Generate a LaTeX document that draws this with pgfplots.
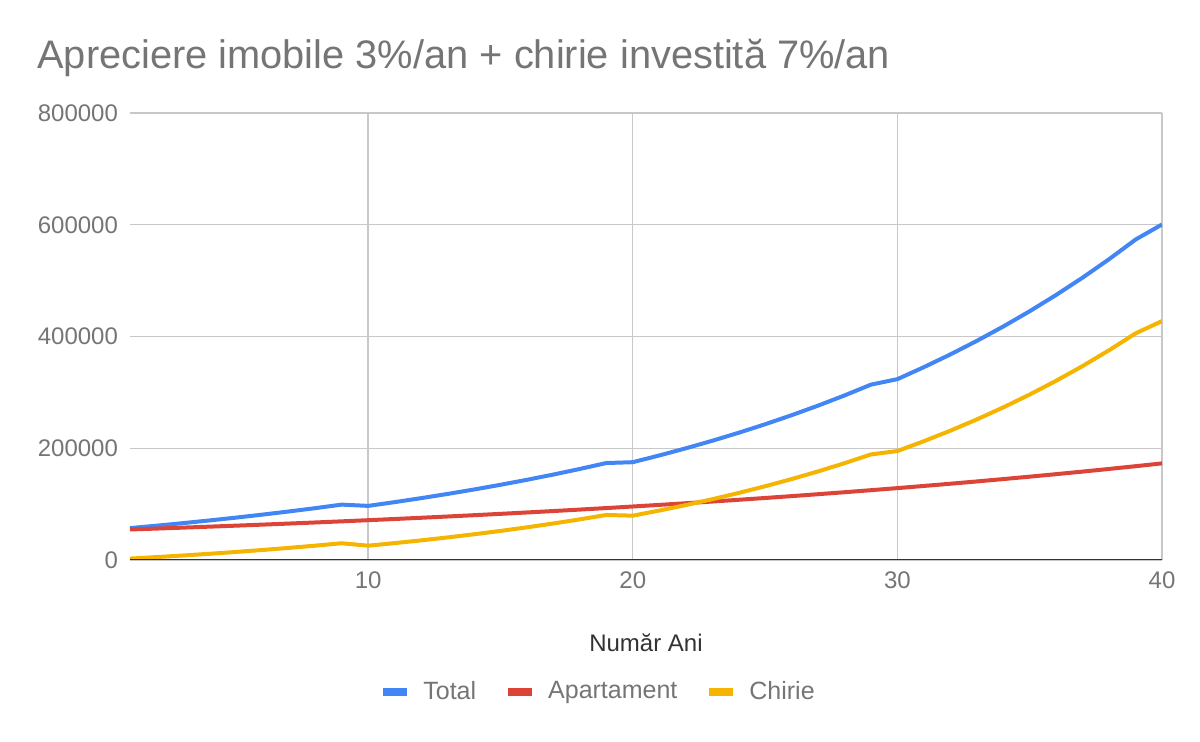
\documentclass[border=0pt]{standalone}
\usepackage{pgfplots}
\usepackage{pgfplotstable}
\pgfplotsset{compat=1.18}
\usepackage{fontspec}
\setmainfont{Liberation Sans}
\definecolor{gblue}{HTML}{4285F4}
\definecolor{gred}{HTML}{DB4437}
\definecolor{gyellow}{HTML}{F4B400}
\definecolor{ggray}{HTML}{757575}
\definecolor{ggrid}{HTML}{C8C8C8}
\definecolor{gdark}{HTML}{333333}

\pgfplotstableread{
n total apart chirie
1 57090 54590 2500
2 61403 56228 5175
3 65952 57915 8037
4 70752 59652 11100
5 75819 61442 14377
6 81168 63285 17883
7 86818 65183 21635
8 92788 67139 25649
9 99098 69153 29945
10 96828 71228 25600
11 103556 73364 30192
12 110670 75565 35105
13 118194 77832 40362
14 126154 80167 45987
15 134578 82572 52006
16 143495 85049 58446
17 152938 87601 65337
18 162940 90229 72711
19 173537 92936 80601
20 175024 95724 79300
21 187047 98596 88451
22 199796 101553 98243
23 213320 104600 108720
24 227668 107738 119930
25 242895 110970 131925
26 259059 114299 144760
27 276221 117728 158493
28 294448 121260 173188
29 313809 124898 188911
30 323645 128645 195000
31 345084 132504 212580
32 367870 136479 231391
33 392092 140574 251518
34 417845 144791 273054
35 445233 149135 296098
36 474364 153609 320755
37 505355 158217 347138
38 538331 162963 375368
39 573426 167852 405574
40 600488 172888 427600
}\datatable

\begin{document}
\begin{tikzpicture}
\path[use as bounding box] (-65pt,-91pt) rectangle (535pt,280pt);
\begin{axis}[
  at={(0pt,0pt)}, anchor=south west,
  scale only axis, width=516pt, height=223.5pt,
  xmin=1, xmax=40, ymin=0, ymax=800000,
  xtick={10,20,30,40},
  xticklabels={10,20,30,40},
  ytick={0,200000,400000,600000,800000},
  yticklabels={0,200000,400000,600000,800000},
  scaled y ticks=false,
  ticklabel style={font=\fontsize{12}{14}\selectfont, text=ggray},
  yticklabel style={xshift=-2.5pt},
  xticklabel style={yshift=-2.5pt},
  major tick length=0pt,
  grid=major,
  grid style={ggrid, line width=0.7pt},
  axis line style={draw=none},
  legend columns=3,
  legend style={draw=none, fill=none, at={(0.4545,-0.295)}, anchor=center,
    font=\fontsize{12.5}{15}\selectfont, text=ggray,
    /tikz/every odd column/.append style={column sep=4pt},
    /tikz/every even column/.append style={column sep=12pt}},
  legend image code/.code={\draw[#1, line width=4pt] (0pt,0pt) -- (12pt,0pt);},
  every axis plot/.append style={line width=2pt, line join=round, no markers},
]
\addplot[gblue] table[x=n, y=total] {\datatable};
\addlegendentry{Total}
\addplot[gred] table[x=n, y=apart] {\datatable};
\addlegendentry{Apartament}
\addplot[gyellow] table[x=n, y=chirie] {\datatable};
\addlegendentry{Chirie}
\draw[gdark, line width=1.25pt] (axis cs:1,0) -- (axis cs:40,0);
\end{axis}
\node[anchor=base west, font=\fontsize{19.9}{23}\selectfont, text=ggray, inner sep=0pt]
  at (-46.5pt,245.5pt) {Apreciere imobile 3\%/an + chirie investită 7\%/an};
\node[anchor=base, font=\fontsize{12}{14}\selectfont, text=gdark, inner sep=0pt]
  at (258pt,-45.8pt) {Număr Ani};
\end{tikzpicture}
\end{document}
